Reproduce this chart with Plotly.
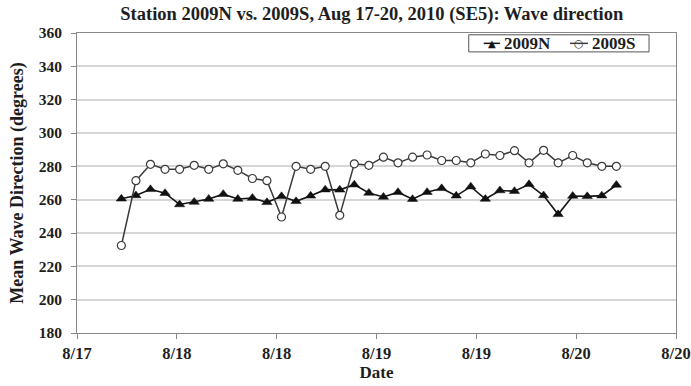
import pandas as pd
import plotly.graph_objects as go

# Sample times (regular interval through the deployment)
times = pd.date_range("2010-08-17 17:20", periods=35, freq="105min")

# Mean wave direction (degrees) at each station
dir_2009N = [260.5, 262.5, 266.2, 263.9, 257.1, 258.6, 260.4, 263.3, 260.4, 261.0,
             258.4, 262.0, 259.0, 262.3, 266.0, 265.9, 269.0, 264.0, 261.6, 264.5,
             260.3, 264.5, 266.8, 262.3, 267.8, 260.4, 265.5, 265.1, 269.2, 262.5,
             251.2, 262.2, 262.0, 262.4, 268.8]
dir_2009S = [232.5, 271.4, 281.2, 278.2, 278.2, 280.6, 278.2, 281.5, 277.6, 272.7,
             271.4, 249.6, 280.0, 278.2, 280.0, 250.6, 281.5, 280.6, 285.5, 282.1,
             285.5, 286.8, 283.5, 283.5, 282.1, 287.4, 286.5, 289.4, 282.1, 289.6,
             282.1, 286.5, 282.1, 280.0, 280.0]

# Axis ticks every 12 hours
tick_times = pd.date_range("2010-08-17 12:00", periods=7, freq="12h")
tick_labels = ["8/17", "8/18", "8/18", "8/19", "8/19", "8/20", "8/20"]

series_names = ["2009N", "2009S"]

serif = "Liberation Serif, Times New Roman, serif"
ink = "#1e1e1e"
n_color = "#151515"
s_color = "#3a3a3a"


def bold(size):
    return dict(family=serif, size=size, color=ink, weight="bold")


fig = go.Figure()
fig.add_trace(go.Scatter(
    x=times, y=dir_2009N, name=series_names[0], mode="lines+markers",
    line=dict(color=n_color, width=1.6),
    marker=dict(symbol="triangle-up", size=9, color="#111111",
                line=dict(color="#111111", width=0.5)),
    showlegend=False,
))
fig.add_trace(go.Scatter(
    x=times, y=dir_2009S, name=series_names[1], mode="lines+markers",
    line=dict(color=s_color, width=1.5),
    marker=dict(symbol="circle", size=8, color="white",
                line=dict(color=s_color, width=1.2)),
    showlegend=False,
))

# Compact boxed key in the upper right of the plot area (paper coordinates)
key_box = dict(x0=0.654, x1=0.955, y0=0.937, y1=0.994)
key_y = 0.9655
shapes = [dict(type="rect", xref="paper", yref="paper", **key_box,
               line=dict(color="#555555", width=1), fillcolor="white", layer="above")]
annotations = []
entries = [
    dict(x0=0.679, x1=0.706, glyph="\u25B2", gsize=10, color=n_color, tx=0.709),
    dict(x0=0.823, x1=0.853, glyph="\u25CB", gsize=11, color=s_color, tx=0.856),
]
for name, e in zip(series_names, entries):
    shapes.append(dict(type="line", xref="paper", yref="paper",
                       x0=e["x0"], x1=e["x1"], y0=key_y, y1=key_y,
                       line=dict(color=e["color"], width=1.5), layer="above"))
    annotations.append(dict(xref="paper", yref="paper", x=(e["x0"] + e["x1"]) / 2,
                            y=key_y, text=e["glyph"], showarrow=False,
                            xanchor="center", yanchor="middle",
                            font=dict(family="DejaVu Sans", size=e["gsize"],
                                      color=e["color"]),
                            bgcolor="rgba(0,0,0,0)"))
    annotations.append(dict(xref="paper", yref="paper", x=e["tx"], y=key_y,
                            text=name, showarrow=False, xanchor="left",
                            yanchor="middle", font=bold(17)))

fig.update_layout(
    width=691, height=386,
    margin=dict(l=77, r=15, t=33, b=53),
    paper_bgcolor="white", plot_bgcolor="white",
    font=bold(15),
    title=dict(text="Station 2009N vs. 2009S, Aug 17-20, 2010 (SE5): Wave direction",
               x=0.538, xanchor="center", y=0.966, yanchor="middle",
               font=bold(18.5)),
    shapes=shapes,
    annotations=annotations,
)

fig.update_xaxes(
    type="date", automargin=False,
    range=[tick_times[0], tick_times[-1]],
    tickmode="array", tickvals=tick_times, ticktext=tick_labels,
    ticks="outside", ticklen=5, tickcolor="#888888",
    showline=True, linecolor="#888888", linewidth=1, mirror=True,
    showgrid=False, zeroline=False,
    title=dict(text="Date", standoff=4, font=bold(17)),
    tickfont=bold(16.5),
)
fig.update_yaxes(
    automargin=False,
    range=[180, 360], dtick=20, tick0=180,
    ticks="outside", ticklen=5, tickcolor="#888888",
    showline=True, linecolor="#888888", linewidth=1, mirror=True,
    showgrid=True, gridcolor="#d6d6d6", gridwidth=1.8, zeroline=False,
    ticklabelstandoff=6,
    title=dict(text="Mean Wave Direction (degrees)", standoff=10, font=bold(18)),
    tickfont=bold(15.5),
)

fig.write_html("out.html")
